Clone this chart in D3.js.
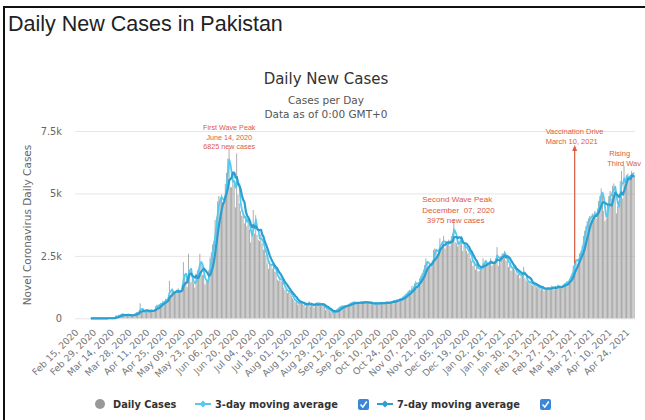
<!DOCTYPE html>
<html>
<head>
<meta charset="utf-8">
<script src="https://cdn.jsdelivr.net/npm/d3@7"></script>
<style>
  body { margin: 0; background: #fff; }
  text { font-family: "DejaVu Sans", sans-serif; }
</style>
</head>
<body>
<div id="chart"></div>
<script>
// daily new cases
var startDate = "2020-02-15";
var feb2020 = [0,0,0,0,0,0,0,0,0,0,0,2,0,0,2];
var mar2020 = [0,1,0,0,0,0,0,0,1,11,1,0,1,8,25,134,58,121,128,174,183,101,116,96,141,130,127,118,133,153,178];
var apr2020 = [249,217,258,600,247,282,258,273,300,246,342,347,282,246,360,480,540,470,560,610,590,700,640,780,770,800,1500,940,1040,1120];
var may2020 = [990,1050,1080,1200,1010,1100,1320,2250,1640,1480,1250,2580,1930,1450,1580,1400,1230,1800,1930,2000,2580,2190,1740,1750,1360,1450,1500,1930,2430,2640,2960];
var jun2020 = [3100,3940,4070,4690,4900,4730,4960,4650,4650,5390,5830,6400,6825,5250,5250,5890,5360,4440,6600,4950,4600,4300,4100,4200,3800,4100,3700,4070,3560,3040];
var jul2020 = [3300,4340,3390,4130,3340,3140,3100,3360,3000,2750,2760,2520,2200,1980,2300,2150,1990,2140,1870,1860,1550,1500,1680,1480,1460,1230,1130,1180,1010,1110,1020];
var aug2020 = [900,800,750,650,680,550,640,590,700,610,540,440,530,600,680,480,620,500,430,600,630,590,550,620,490,480,470,330,400,380,320];
var sep2020 = [240,210,200,280,320,380,420,460,480,500,450,520,490,530,560,600,620,640,660,610,580,610,620,640,660,600,690,660,620,630];
var oct2020 = [610,560,620,580,590,600,640,560,610,630,620,580,600,660,650,610,630,640,680,700,720,680,750,730,780,800,780,880,920,960,1000];
var nov2020 = [1100,1140,1000,1300,1200,1400,1500,1300,1400,1600,1700,1800,1950,2130,2400,2250,2060,2200,2050,2300,2740,2800,2700,2600,2750,3200,2850,3100,3300,2800];
var dec2020 = [3060,2950,3150,2900,3300,3400,3975,3050,3000,2880,3100,3200,3300,2700,2900,2950,2700,2600,2800,2400,2300,2100,2300,1950,2200,1880,1900,2100,2000,2400,2200];
var jan2021 = [2300,2100,2200,2250,2400,2100,2200,2300,2400,2850,2100,2300,2500,2600,2550,2700,2300,2450,2050,2200,1900,2000,2100,1950,1800,1750,1900,1600,1700,1800,2060];
var feb2021 = [1600,1500,1450,1400,1500,1350,1300,1400,1350,1250,1200,1300,1150,1200,1250,1100,1150,1200,1250,1150,1200,1300,1250,1150,1300,1200,1350,1250];
var mar2021 = [1200,1300,1350,1400,1400,1500,1450,1600,1700,1800,2100,2500,2300,2200,2400,2600,2700,2900,3300,3500,3700,3900,4000,4100,4000,4200,4100,4300,4000,4400,4700];
var apr2021 = [4900,5200,5000,4300,3900,4000,4600,4900,5100,4800,5300,5400,5100,4200,4500,4700,5500,5900,4800,6100,5400,5600,5800,5600,5700,5900,5800,5700];

var lineStart = "2020-02-25"; // moving averages drawn from here on

var xLabels = ["Feb 15, 2020","Feb 29, 2020","Mar 14, 2020","Mar 28, 2020","Apr 11, 2020","Apr 25, 2020",
  "May 09, 2020","May 23, 2020","Jun 06, 2020","Jun 20, 2020","Jul 04, 2020","Jul 18, 2020","Aug 01, 2020",
  "Aug 15, 2020","Aug 29, 2020","Sep 12, 2020","Sep 26, 2020","Oct 10, 2020","Oct 24, 2020","Nov 07, 2020",
  "Nov 21, 2020","Dec 05, 2020","Dec 19, 2020","Jan 02, 2021","Jan 16, 2021","Jan 30, 2021","Feb 13, 2021",
  "Feb 27, 2021","Mar 13, 2021","Mar 27, 2021","Apr 10, 2021","Apr 24, 2021"];
var yTicks = [0, 2500, 5000, 7500];
var yTickLabels = ["0", "2.5k", "5k", "7.5k"];

var notes = [
  {date: "2020-06-13", lines: ["First Wave Peak", "June 14, 2020", "6825 new cases"]},
  {date: "2020-11-12", lines: ["Second Wave Peak", "December  07, 2020", "  3975 new cases"]},
  {date: "2021-03-12", lines: ["Vaccination Drive", "March 10, 2021"]},
  {date: "2021-04-16", lines: [" Rising", "Third Wav"]}
];

var width = 645, height = 420;
var parseIso = d3.timeParse("%Y-%m-%d");
var parseLabel = d3.timeParse("%b %d, %Y");

var cases = [].concat(feb2020, mar2020, apr2020, may2020, jun2020, jul2020, aug2020, sep2020,
  oct2020, nov2020, dec2020, jan2021, feb2021, mar2021, apr2021);
var day0 = parseIso(startDate);
var data = cases.map(function(v, i) {
  return {i: i, date: d3.timeDay.offset(day0, i), value: v};
});

// trailing moving averages
function movingAvg(n) {
  return data.map(function(d, i) {
    var lo = Math.max(0, i - n + 1);
    return {i: i, date: d.date, value: d3.mean(cases.slice(lo, i + 1))};
  });
}
var firstLine = d3.timeDay.count(day0, parseIso(lineStart));
var avg3 = movingAvg(3).slice(firstLine);
var avg7 = movingAvg(7).slice(firstLine);

function dayIndex(dt) { return d3.timeDay.count(day0, dt); }

var svg = d3.select("#chart").append("svg")
    .attr("width", width)
    .attr("height", height);

svg.append("rect").attr("width", width).attr("height", height).attr("fill", "#fff");

// outer frame
svg.append("path")
    .attr("d", "M4,420V7H645")
    .attr("fill", "none")
    .attr("stroke", "#111")
    .attr("stroke-width", 2);

svg.append("text")
    .attr("x", 8).attr("y", 31)
    .style("font-family", "'Liberation Sans', Arial, sans-serif")
    .style("font-size", "21.5px")
    .attr("fill", "#222")
    .text("Daily New Cases in Pakistan");

svg.append("text")
    .attr("x", 326).attr("y", 84)
    .attr("text-anchor", "middle")
    .style("font-size", "15px")
    .attr("fill", "#333")
    .text("Daily New Cases");
svg.append("text")
    .attr("x", 326).attr("y", 104)
    .attr("text-anchor", "middle")
    .style("font-size", "10.5px")
    .attr("fill", "#555")
    .text("Cases per Day");
svg.append("text")
    .attr("x", 326).attr("y", 118)
    .attr("text-anchor", "middle")
    .style("font-size", "10.5px")
    .attr("fill", "#555")
    .text("Data as of 0:00 GMT+0");

var x = d3.scaleBand()
    .domain(data.map(function(d) { return d.i; }))
    .range([77.5, 635]);
var y = d3.scaleLinear()
    .domain([0, 7500])
    .range([318.3, 131]);
var bw = x.bandwidth();
function cx(i) { return x(i) + bw / 2; }

// grid + y axis
var yAxis = d3.axisLeft(y)
    .tickValues(yTicks)
    .tickSize(-(635 - 75))
    .tickFormat(function(d, k) { return yTickLabels[k]; });
var gy = svg.append("g")
    .attr("transform", "translate(75,0)")
    .call(yAxis);
gy.select(".domain").remove();
gy.selectAll(".tick line").attr("stroke", "#e6e6e6");
gy.selectAll(".tick text")
    .attr("x", -13)
    .attr("fill", "#666")
    .style("font-family", "'DejaVu Sans', sans-serif")
    .style("font-size", "9.8px");

svg.append("text")
    .attr("transform", "translate(31,225) rotate(-90)")
    .attr("text-anchor", "middle")
    .style("font-size", "10.5px")
    .attr("fill", "#666")
    .text("Novel Coronavirus Daily Cases");

// bars
svg.append("g").selectAll("rect")
    .data(data.filter(function(d) { return d.value > 0; }))
    .enter().append("rect")
    .attr("x", function(d) { return x(d.i); })
    .attr("width", bw * 0.7)
    .attr("y", function(d) { return y(d.value); })
    .attr("height", function(d) { return y(0) - y(d.value); })
    .attr("fill", "#a2a2a2");

var line = d3.line()
    .x(function(d) { return cx(d.i); })
    .y(function(d) { return y(d.value); });

svg.append("path")
    .datum(avg3)
    .attr("d", line)
    .attr("fill", "none")
    .attr("stroke", "#55c9f0")
    .attr("stroke-width", 1.8)
    .attr("stroke-linejoin", "round");
svg.append("path")
    .datum(avg7)
    .attr("d", line)
    .attr("fill", "none")
    .attr("stroke", "#2b9fcf")
    .attr("stroke-width", 2.2)
    .attr("stroke-linejoin", "round");

// x labels
svg.append("g").selectAll("text")
    .data(xLabels)
    .enter().append("text")
    .attr("transform", function(d) {
      var px = cx(dayIndex(parseLabel(d)));
      return "translate(" + (px + 1) + ",333) rotate(-45)";
    })
    .attr("text-anchor", "end")
    .style("font-size", "9.3px")
    .attr("fill", "#777")
    .text(function(d) { return d; });

// annotations
var red = "#dc5a3f";
var noteFont = {0: 7.2, 1: 8, 2: 7.5, 3: 7.5};
var noteTop = {0: 130, 1: 202, 2: 134, 3: 156};
var noteAnchor = {0: "middle", 1: "start", 2: "start", 3: "start"};
notes.forEach(function(n, k) {
  var px = cx(dayIndex(parseIso(n.date)));
  if (k == 2) px = px - 29;
  if (k == 3) px = px - 12;
  var t = svg.append("text")
      .attr("text-anchor", noteAnchor[k])
      .attr("fill", red)
      .attr("xml:space", "preserve")
      .style("font-family", "'Liberation Sans', Arial, sans-serif")
      .style("font-size", noteFont[k] + "px");
  n.lines.forEach(function(s, j) {
    t.append("tspan")
        .attr("x", px)
        .attr("y", noteTop[k] + j * (noteFont[k] + 2.5))
        .text(s);
  });
});

// vaccination arrow
var ax = cx(dayIndex(parseIso(notes[2].date)));
svg.append("line")
    .attr("x1", ax).attr("x2", ax)
    .attr("y1", 149).attr("y2", y(2200))
    .attr("stroke", red)
    .attr("stroke-width", 1.2);
svg.append("path")
    .attr("d", "M" + (ax - 2.5) + ",151L" + ax + ",145L" + (ax + 2.5) + ",151Z")
    .attr("fill", red);

// legend
var lg = svg.append("g").attr("transform", "translate(0,404)");
lg.append("circle").attr("cx", 100).attr("cy", 0).attr("r", 5).attr("fill", "#999");
lg.append("text").attr("x", 113).attr("y", 3.5).attr("fill", "#333")
    .style("font-size", "9.8px").style("font-weight", "bold").text("Daily Cases");

function legendLine(x0, color, label, boxX) {
  lg.append("line").attr("x1", x0).attr("x2", x0 + 16).attr("y1", 0).attr("y2", 0)
      .attr("stroke", color).attr("stroke-width", 2);
  lg.append("path").attr("d", "M" + (x0 + 8) + ",-3.5L" + (x0 + 11.5) + ",0L" + (x0 + 8) + ",3.5L" + (x0 + 4.5) + ",0Z")
      .attr("fill", color);
  lg.append("text").attr("x", x0 + 20).attr("y", 3.5).attr("fill", "#333")
      .style("font-size", "9.8px").style("font-weight", "bold").text(label);
  lg.append("rect").attr("x", boxX).attr("y", -5).attr("width", 11).attr("height", 11)
      .attr("rx", 2).attr("fill", "#3b86d6");
  lg.append("path").attr("d", "M" + (boxX + 2.5) + ",0.5L" + (boxX + 4.8) + ",3L" + (boxX + 8.8) + ",-2.5")
      .attr("fill", "none").attr("stroke", "#fff").attr("stroke-width", 1.5);
}
legendLine(195, "#55c9f0", "3-day moving average", 358);
legendLine(377, "#2b9fcf", "7-day moving average", 540);
</script>
</body>
</html>
